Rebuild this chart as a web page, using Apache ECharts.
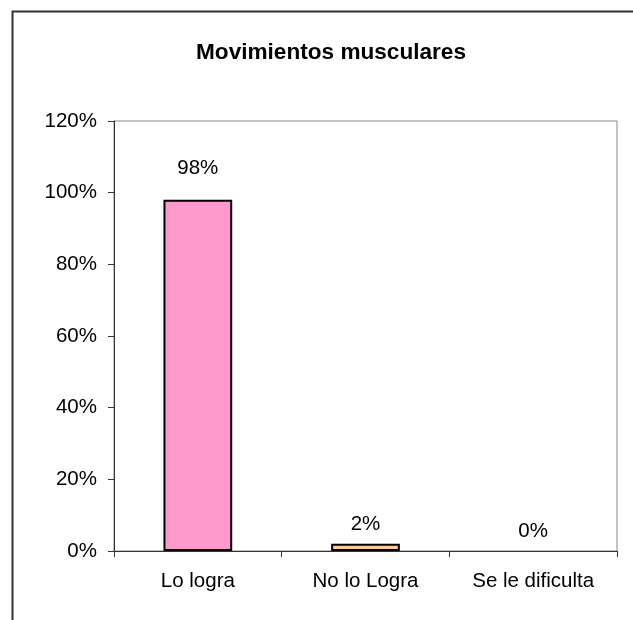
<!DOCTYPE html>
<html>
<head>
<meta charset="utf-8">
<script src="https://cdn.jsdelivr.net/npm/echarts@6/dist/echarts.min.js"></script>
<style>
html,body{margin:0;padding:0;background:#fff;}
#chart{width:633px;height:620px;}
</style>
</head>
<body>
<div id="chart"></div>
<script>
const titleText = 'Movimientos musculares';
const categories = ['Lo logra', 'No lo Logra', 'Se le dificulta'];
const values = [0.98, 0.02, 0.0];
const barColors = ['#FF99CC', '#FFCC99', '#CCFFCC'];
const yTicks = [0, 0.2, 0.4, 0.6, 0.8, 1.0, 1.2];

const font = '"Liberation Sans", Arial, sans-serif';
const fs = 20.5;
const chart = echarts.init(document.getElementById('chart'));
const data = values.map((v, i) => ({
  value: v,
  itemStyle: { color: barColors[i], borderWidth: v > 0 ? 2 : 0 },
  label: { distance: i === 0 ? 21 : 9 }
}));
chart.setOption({
  animation: false,
  backgroundColor: '#fff',
  graphic: [{
    type: 'rect',
    left: 10, top: 9,
    shape: { x: 0, y: 0, width: 700, height: 700 },
    style: { fill: 'none', stroke: '#333', lineWidth: 2 },
    silent: true
  }],
  title: {
    text: titleText,
    left: 326, top: 36, textAlign: 'center',
    textStyle: { fontFamily: font, fontSize: 22.6, fontWeight: 'bold', color: '#000' }
  },
  grid: { left: 114, right: 16, top: 121, bottom: 69, show: true, borderColor: '#888', borderWidth: 1 },
  xAxis: {
    type: 'category',
    data: categories,
    axisLine: { lineStyle: { color: '#333', width: 1 } },
    axisTick: { show: true, length: 6, lineStyle: { color: '#333' } },
    axisLabel: { fontFamily: font, fontSize: fs, color: '#000', margin: 20 }
  },
  yAxis: {
    type: 'value',
    min: yTicks[0], max: yTicks[yTicks.length - 1], interval: 0.2,
    splitLine: { show: false },
    axisLine: { show: true, lineStyle: { color: '#333', width: 1 } },
    axisTick: { show: true, length: 6, lineStyle: { color: '#333' } },
    axisLabel: { fontFamily: font, fontSize: fs, color: '#000', margin: 17,
      formatter: v => Math.round(v * 100) + '%' }
  },
  series: [{
    type: 'bar',
    data: data,
    barWidth: '41%',
    itemStyle: { borderColor: '#000' },
    label: {
      show: true, position: 'top',
      fontFamily: font, fontSize: fs, color: '#000',
      formatter: p => Math.round(p.value * 100) + '%'
    }
  }]
});
</script>
</body>
</html>
